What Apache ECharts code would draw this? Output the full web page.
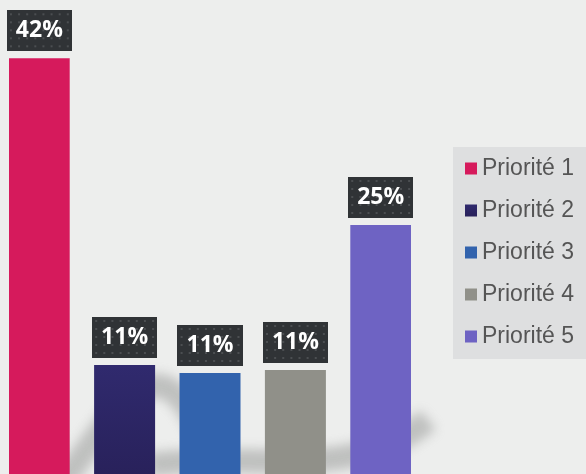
<!DOCTYPE html>
<html>
<head>
<meta charset="utf-8">
<script src="https://cdn.jsdelivr.net/npm/echarts@6/dist/echarts.min.js"></script>
<style>
  html, body { margin: 0; padding: 0; background: #EDEEED; overflow: hidden; }
  /* the plot runs a few pixels past the window's bottom edge */
  #chart { width: 586px; height: 479px; }
</style>
</head>
<body>
<div id="chart"></div>
<script>
// Priority shares (percent)
const priorities = ['Priorité 1', 'Priorité 2', 'Priorité 3', 'Priorité 4', 'Priorité 5'];
const shares = [42.07, 11.4, 10.6, 10.9, 25.4];
const barColors = ['#D61A5C', null, '#3263AD', '#909089', '#6E63C3'];

// Dark dotted tile used behind the value labels
function dottedTile(w, h) {
  const c = document.createElement('canvas');
  c.width = w; c.height = h;
  const ctx = c.getContext('2d');
  ctx.fillStyle = '#303336';
  ctx.fillRect(0, 0, w, h);
  ctx.fillStyle = '#4B4E51';
  for (let y = 3; y < h; y += 8) {
    for (let x = 3; x < w; x += 8) {
      ctx.fillRect(x, y, 2, 2);
    }
  }
  return c;
}
const tile = dottedTile(64, 41);

const navyGradient = {
  type: 'linear', x: 0, y: 0, x2: 0, y2: 1,
  colorStops: [
    { offset: 0, color: '#302A6E' },
    { offset: 1, color: '#28215A' }
  ]
};

const series = priorities.map((name, i) => ({
  name: name,
  type: 'bar',
  data: [shares[i]],
  barWidth: 61,
  barGap: '40%',
  itemStyle: { color: barColors[i] || navyGradient },
  label: {
    show: true,
    position: 'top',
    distance: 7,
    formatter: p => Math.round(p.value) + '%',
    color: '#FFFFFF',
    fontFamily: 'Open Sans',
    fontWeight: 'bold',
    fontSize: 23,
    lineHeight: 25,
    padding: [8, 9],
    backgroundColor: { image: tile }
  }
}));

// soft floor shadow drawn behind the bars (stroke moved off-canvas, shadow brought back)
function softBand(shape, width) {
  return {
    type: 'bezierCurve',
    z: 0,
    silent: true,
    shape: shape,
    y: -1000,
    style: {
      fill: null,
      stroke: '#B5B7B5',
      lineWidth: width,
      shadowColor: 'rgba(176,178,176,0.75)',
      shadowBlur: 11,
      shadowOffsetY: 1000
    }
  };
}

const chart = echarts.init(document.getElementById('chart'), null, { renderer: 'canvas' });
chart.setOption({
  backgroundColor: '#EDEEED',
  animation: false,
  grid: { left: 9, top: 29, width: 402, bottom: 0 },
  xAxis: { type: 'category', data: [''], show: false },
  yAxis: { type: 'value', min: 0, max: 45, show: false },
  legend: {
    orient: 'vertical',
    left: 453,
    top: 147,
    data: priorities,
    icon: 'rect',
    itemWidth: 12,
    itemHeight: 12,
    itemGap: 19,
    padding: [10, 12, 11, 12],
    backgroundColor: '#DEDFE0',
    textStyle: { color: '#555555', fontFamily: 'Liberation Sans', fontSize: 23 }
  },
  graphic: [
    softBand({ x1: 55, y1: 490, cpx1: 110, cpy1: 430, cpx2: 160, cpy2: 300, x2: 215, y2: 470 }, 24),
    softBand({ x1: 150, y1: 465, cpx1: 250, cpy1: 450, cpx2: 350, cpy2: 485, x2: 428, y2: 420 }, 24)
  ],
  series: series
});
</script>
</body>
</html>
